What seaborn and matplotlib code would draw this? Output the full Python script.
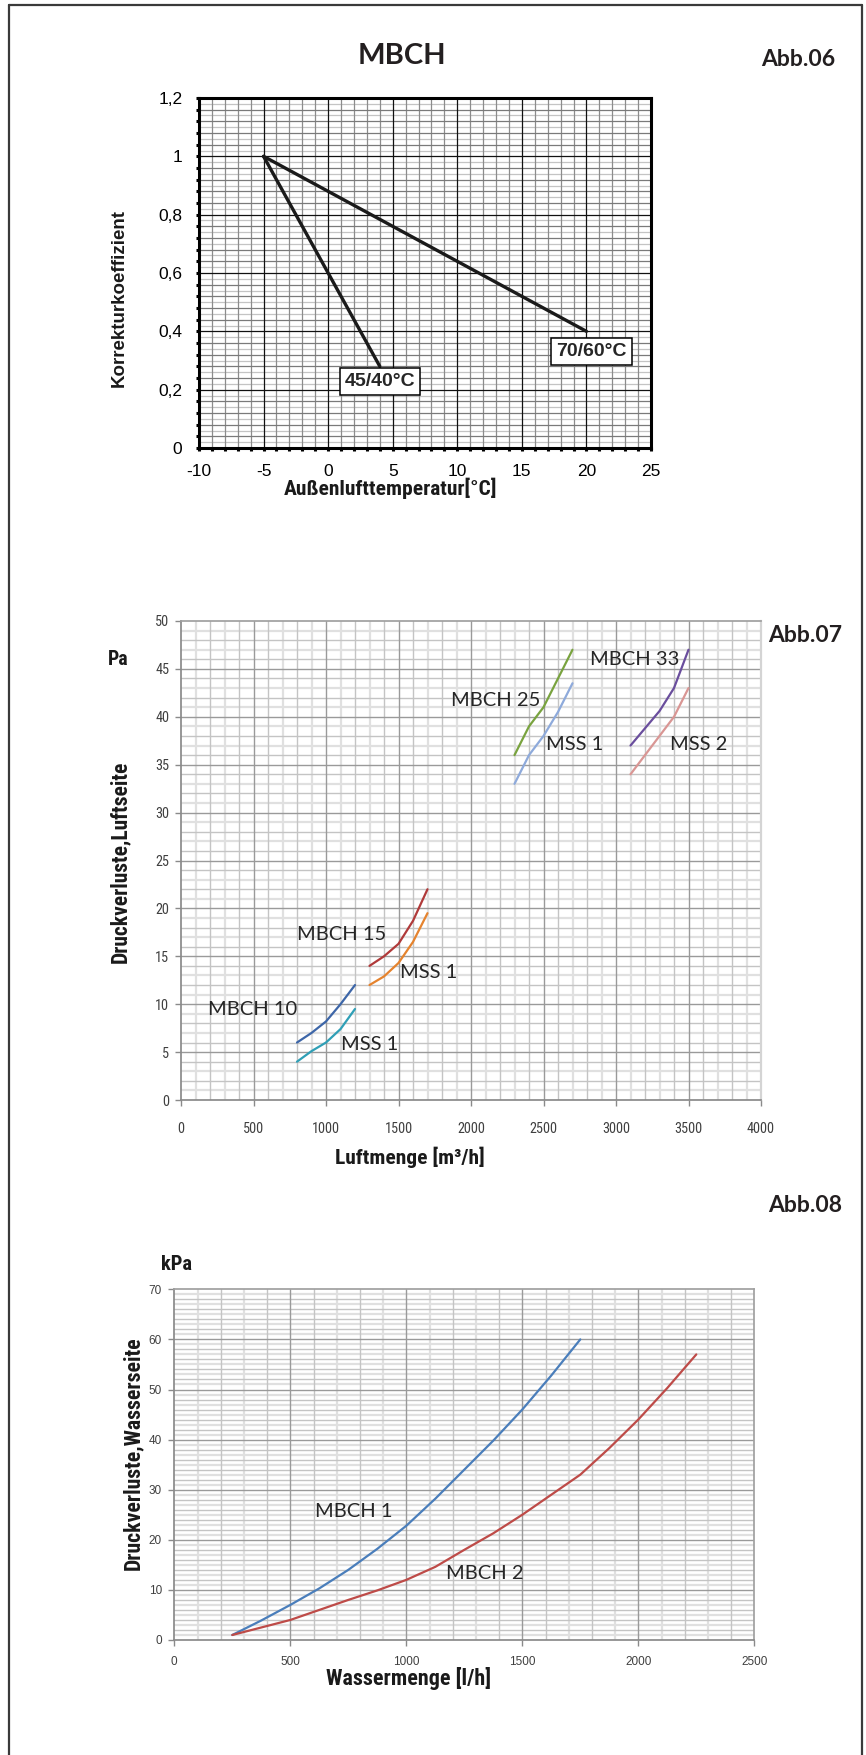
import numpy as np
import pandas as pd
import matplotlib
matplotlib.use("Agg")
import matplotlib.pyplot as plt
from matplotlib.lines import Line2D
from matplotlib.ticker import MultipleLocator, FuncFormatter
from matplotlib import font_manager as fm
import seaborn as sns

# ---------------- data ----------------
# Abb.06 : correction coefficient vs outdoor temperature
temp_45 = [-5, 4]
coef_45 = [1.0, 0.28]
temp_70 = [-5, 20]
coef_70 = [1.0, 0.40]

# Abb.07 : air side pressure drop [Pa] vs air flow [m3/h]
air_x_10 = [800, 900, 1000, 1100, 1200]
air_mbch10 = [6, 7, 8.2, 10, 12]
air_mss1_10 = [4, 5.1, 6, 7.4, 9.5]
air_x_15 = [1300, 1400, 1500, 1600, 1700]
air_mbch15 = [14, 15, 16.3, 18.7, 22]
air_mss1_15 = [12, 12.9, 14.3, 16.5, 19.5]
air_x_25 = [2300, 2400, 2500, 2600, 2700]
air_mbch25 = [36, 39, 41, 44, 47]
air_mss1_25 = [33, 36, 38, 40.5, 43.5]
air_x_33 = [3100, 3200, 3300, 3400, 3500]
air_mbch33 = [37, 38.8, 40.6, 43, 47]
air_mss2_33 = [34, 36, 38, 40, 43]

# Abb.08 : water side pressure drop [kPa] vs water flow [l/h]
water_x_1 = [250, 375, 500, 625, 750, 875, 1000, 1125, 1250, 1375, 1500, 1625, 1750]
water_mbch1 = [1, 3.9, 7, 10.3, 14, 18.2, 22.8, 28.2, 34, 39.8, 46, 52.8, 60]
water_x_2 = [250, 375, 500, 625, 750, 875, 1000, 1125, 1250, 1375, 1500, 1625, 1750, 1875, 2000, 2125, 2250]
water_mbch2 = [1, 2.5, 4, 6, 8, 9.9, 12, 14.6, 18, 21.3, 25, 29, 33, 38.3, 44, 50.3, 57]

# ---------------- fonts ----------------
sns.set_theme(style="white")
ttf = fm.fontManager.ttflist
avail = {f.name for f in ttf}


def pick(*names):
    for n in names:
        if n in avail:
            return n
    return "DejaVu Sans"


if "Liberation Sans Narrow" in avail:
    NARROW_KW = dict(family="Liberation Sans Narrow")
    IS_NARROW = True
elif "Roboto Condensed" in avail:
    NARROW_KW = dict(family="Roboto Condensed")
    IS_NARROW = True
elif any(f.name == "DejaVu Sans" and "condensed" in str(f.stretch).lower() for f in ttf):
    NARROW_KW = dict(family="DejaVu Sans", fontstretch="condensed")
    IS_NARROW = True
else:
    NARROW_KW = dict(family=pick("Roboto", "Liberation Sans", "DejaVu Sans"))
    IS_NARROW = False

SANS = pick("Liberation Sans", "DejaVu Sans")
HUMAN = pick("Lato", "Open Sans", "DejaVu Sans")
plt.rcParams["font.family"] = [SANS, "DejaVu Sans"]
plt.rcParams["axes.unicode_minus"] = False

W, H = 866, 1755
fig = plt.figure(figsize=(W / 100, H / 100), dpi=100)
fig.patch.set_facecolor("white")
renderer = fig.canvas.get_renderer()


def rect(l, t, r, b):
    return [l / W, 1 - b / H, (r - l) / W, (b - t) / H]


def ftext(x, y, s, **kw):
    kw.setdefault("ha", "center")
    kw.setdefault("va", "center")
    return fig.text(x / W, 1 - y / H, s, **kw)


def ftext_fit(x, y, s, target, rotation=0, **kw):
    """Place a text and scale its font size so that its length matches the reference."""
    t = fig.text(x / W, 1 - y / H, s, ha="center", va="center", **kw)
    w = t.get_window_extent(renderer).width
    t.set_fontsize(t.get_fontsize() * target / w)
    t.set_rotation(rotation)
    return t


# page frame
fc = "#3a3a3a"
fig.add_artist(Line2D([8.5 / W, 8.5 / W], [1 - 5 / H, 0], transform=fig.transFigure, color=fc, lw=1.6))
fig.add_artist(Line2D([8.5 / W, 862 / W], [1 - 5 / H, 1 - 5 / H], transform=fig.transFigure, color=fc, lw=1.6))
fig.add_artist(Line2D([862 / W, 862 / W], [1 - 5 / H, 0], transform=fig.transFigure, color=fc, lw=1.6))

# ================= Abb.06 =================
ax1 = fig.add_axes(rect(199, 98, 651, 448))
ax1.set_facecolor("white")
df1 = pd.concat([
    pd.DataFrame({"t": temp_45, "k": coef_45, "curve": "45/40°C"}),
    pd.DataFrame({"t": temp_70, "k": coef_70, "curve": "70/60°C"}),
])
for v in np.arange(-9, 25, 1):
    if v % 5 == 0:
        ax1.axvline(v, color="#111111", lw=0.9, zorder=1)
    else:
        ax1.axvline(v, color="#8c8c8c", lw=0.9, zorder=0.5)
for i in range(1, 60):
    h = i * 0.02
    if i % 10 == 0:
        ax1.axhline(h, color="#111111", lw=0.9, zorder=1)
    elif i % 2 == 0:
        ax1.axhline(h, color="#7a7a7a", lw=0.9, zorder=0.5)
    else:
        ax1.axhline(h, color="#c4c4c4", lw=0.9, zorder=0.4)
sns.lineplot(data=df1, x="t", y="k", hue="curve",
             palette={"45/40°C": "#1a1a1a", "70/60°C": "#1a1a1a"},
             estimator=None, sort=False, lw=2.4, legend=False, ax=ax1, zorder=5)
ax1.set_xlim(-10, 25)
ax1.set_ylim(0, 1.2)
ax1.set_xlabel("")
ax1.set_ylabel("")
ax1.xaxis.set_major_locator(MultipleLocator(5))
ax1.xaxis.set_minor_locator(MultipleLocator(1))
ax1.yaxis.set_major_locator(MultipleLocator(0.2))
ax1.yaxis.set_minor_locator(MultipleLocator(0.04))
ax1.yaxis.set_major_formatter(FuncFormatter(lambda v, _: ("%g" % round(v, 2)).replace(".", ",")))
ax1.tick_params(which="both", direction="out", length=2.5, width=2.2, color="black",
                bottom=True, left=True)
ax1.tick_params(axis="x", which="major", pad=9, labelsize=12.5, labelcolor="black")
ax1.tick_params(axis="y", which="major", pad=9.5, labelsize=12.5, labelcolor="black")
for s in ax1.spines.values():
    s.set_color("black")
    s.set_linewidth(2.2)
    s.set_zorder(6)
box = dict(boxstyle="square,pad=0.25", fc="white", ec="black", lw=1.1)
ax1.text(4.02, 0.228, "45/40°C", ha="center", va="center", fontsize=14, fontweight="bold",
         family=SANS, bbox=box, zorder=7)
ax1.text(20.4, 0.331, "70/60°C", ha="center", va="center", fontsize=14, fontweight="bold",
         family=SANS, bbox=box, zorder=7)

ftext(402, 56, "MBCH", family=HUMAN, fontweight="bold", fontsize=21, color="#231f20")
ftext(835, 60, "Abb.06", ha="right", family=HUMAN, fontweight="bold", fontsize=16.5, color="#231f20")
ftext(119, 298, "Korrekturkoeffizient", rotation=90, family=SANS, fontweight="bold", fontsize=13.5, color="#1a1a1a")
ftext_fit(391, 488, "Außenlufttemperatur[°C]", 213, fontweight="bold", fontsize=16, color="#1a1a1a", **NARROW_KW)

# ================= Abb.07 =================
ax2 = fig.add_axes(rect(181, 621, 761, 1100))
ax2.set_facecolor("white")
groups2 = [
    ("MBCH 10", air_x_10, air_mbch10, "#3d66a8"),
    ("MSS 1 a", air_x_10, air_mss1_10, "#2f9fb6"),
    ("MBCH 15", air_x_15, air_mbch15, "#b03a3a"),
    ("MSS 1 b", air_x_15, air_mss1_15, "#e5832e"),
    ("MBCH 25", air_x_25, air_mbch25, "#79a33f"),
    ("MSS 1 c", air_x_25, air_mss1_25, "#8eaadb"),
    ("MBCH 33", air_x_33, air_mbch33, "#6a4e9d"),
    ("MSS 2", air_x_33, air_mss2_33, "#d99694"),
]
df2 = pd.concat([pd.DataFrame({"q": x, "dp": y, "curve": n}) for n, x, y, _ in groups2])
pal2 = {n: c for n, _, _, c in groups2}


def excel_grid(ax, xstep, xmajor, xmax, ystep, ymajor, ymax):
    for v in np.arange(xstep, xmax, xstep):
        k = int(round(v / xstep))
        if int(round(v)) % xmajor == 0:
            ax.axvline(v, color="#9a9a9a", lw=1.0, zorder=1)
        elif k % 2 == 0:
            ax.axvline(v, color="#c4c4c4", lw=1.0, zorder=0.6)
        else:
            ax.axvline(v, color="#e0e0e0", lw=1.6, zorder=0.5)
    for h in np.arange(ystep, ymax, ystep):
        k = int(round(h / ystep))
        if int(round(h)) % ymajor == 0:
            ax.axhline(h, color="#9a9a9a", lw=1.0, zorder=1)
        elif k % 2 == 0:
            ax.axhline(h, color="#c4c4c4", lw=1.0, zorder=0.6)
        else:
            ax.axhline(h, color="#e0e0e0", lw=1.6, zorder=0.5)


excel_grid(ax2, 100, 500, 4000, 1, 5, 50)
sns.lineplot(data=df2, x="q", y="dp", hue="curve", palette=pal2, estimator=None, sort=False,
             lw=1.6, legend=False, ax=ax2, zorder=5)
ax2.set_xlim(0, 4000)
ax2.set_ylim(0, 50)
ax2.set_xlabel("")
ax2.set_ylabel("")
ax2.xaxis.set_major_locator(MultipleLocator(500))
ax2.yaxis.set_major_locator(MultipleLocator(5))
tick2 = 10.3 if IS_NARROW else 8.8
ax2.tick_params(which="major", direction="out", length=4, width=1, color="#8a8a8a",
                bottom=True, left=True, labelsize=tick2, labelcolor="#404040")
ax2.tick_params(axis="x", pad=11.5)
ax2.tick_params(axis="y", pad=4.5)
for lab in ax2.get_xticklabels() + ax2.get_yticklabels():
    lab.set_family(NARROW_KW["family"])
    if "fontstretch" in NARROW_KW:
        lab.set_fontstretch(NARROW_KW["fontstretch"])
ax2.spines["left"].set_color("#8a8a8a")
ax2.spines["bottom"].set_color("#8a8a8a")
ax2.spines["top"].set_color("#a0a0a0")
ax2.spines["right"].set_color("#d4d4d4")
ax2.spines["right"].set_linewidth(1.6)
for s in ax2.spines.values():
    s.set_zorder(6)
lab_kw = dict(ha="center", va="center", family=HUMAN, fontsize=14.5, color="#262626", zorder=7)
ax2.text(497, 9.4, "MBCH 10", **lab_kw)
ax2.text(1302, 5.8, "MSS 1", **lab_kw)
ax2.text(1111, 17.3, "MBCH 15", **lab_kw)
ax2.text(1710, 13.3, "MSS 1", **lab_kw)
ax2.text(2167, 41.7, "MBCH 25", **lab_kw)
ax2.text(2718, 37.1, "MSS 1", **lab_kw)
ax2.text(3131, 46.0, "MBCH 33", **lab_kw)
ax2.text(3567, 37.1, "MSS 2", **lab_kw)

ftext(842, 636, "Abb.07", ha="right", family=HUMAN, fontweight="bold", fontsize=16.5, color="#231f20")
ftext_fit(118, 659, "Pa", 20.6, fontweight="bold", fontsize=15.5, color="#1a1a1a", **NARROW_KW)
ftext_fit(120, 862, "Druckverluste,Luftseite", 202, rotation=90, fontweight="bold", fontsize=16,
          color="#1a1a1a", **NARROW_KW)
ftext_fit(410, 1157, "Luftmenge [m³/h]", 149, fontweight="bold", fontsize=16, color="#1a1a1a", **NARROW_KW)

# ================= Abb.08 =================
ax3 = fig.add_axes(rect(174.3, 1289.3, 754.3, 1640))
ax3.set_facecolor("white")
df3 = pd.concat([
    pd.DataFrame({"q": water_x_1, "dp": water_mbch1, "curve": "MBCH 1"}),
    pd.DataFrame({"q": water_x_2, "dp": water_mbch2, "curve": "MBCH 2"}),
])
excel_grid(ax3, 100, 500, 2500, 1, 10, 70)
sns.lineplot(data=df3, x="q", y="dp", hue="curve", palette={"MBCH 1": "#4a7ebb", "MBCH 2": "#be4b48"},
             estimator=None, sort=False, lw=1.6, legend=False, ax=ax3, zorder=5)
ax3.set_xlim(0, 2500)
ax3.set_ylim(0, 70)
ax3.set_xlabel("")
ax3.set_ylabel("")
ax3.xaxis.set_major_locator(MultipleLocator(500))
ax3.yaxis.set_major_locator(MultipleLocator(10))
ax3.tick_params(which="major", direction="out", length=4, width=1, color="#8a8a8a",
                bottom=True, left=True, labelsize=8.5, labelcolor="#404040")
ax3.tick_params(axis="x", pad=7.5)
ax3.tick_params(axis="y", pad=5)
ax3.spines["left"].set_color("#8a8a8a")
ax3.spines["bottom"].set_color("#8a8a8a")
ax3.spines["top"].set_color("#a0a0a0")
ax3.spines["right"].set_color("#a0a0a0")
for s in ax3.spines.values():
    s.set_zorder(6)
ax3.text(774, 25.7, "MBCH 1", **lab_kw)
ax3.text(1339, 13.2, "MBCH 2", **lab_kw)

ftext(842, 1206, "Abb.08", ha="right", family=HUMAN, fontweight="bold", fontsize=16.5, color="#231f20")
ftext_fit(177, 1265, "kPa", 31, fontweight="bold", fontsize=15.5, color="#1a1a1a", **NARROW_KW)
ftext_fit(133, 1453, "Druckverluste,Wasserseite", 233, rotation=90, fontweight="bold", fontsize=16,
          color="#1a1a1a", **NARROW_KW)
ftext_fit(409, 1678, "Wassermenge [l/h]", 164, fontweight="bold", fontsize=16, color="#1a1a1a", **NARROW_KW)

fig.savefig("out.png", dpi=100, facecolor="white")
